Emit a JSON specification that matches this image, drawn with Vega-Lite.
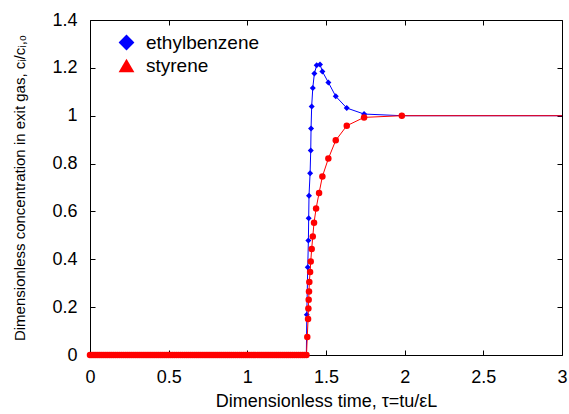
{
  "$schema": "https://vega.github.io/schema/vega-lite/v6.json",
  "width": 472,
  "height": 335,
  "autosize": {"type": "none"},
  "padding": {"left": 90, "top": 20, "right": 7, "bottom": 59},
  "background": "white",
  "config": {
    "font": "Liberation Sans",
    "view": {"stroke": "black", "strokeWidth": 1},
    "axis": {
      "grid": false,
      "domain": false,
      "ticks": true,
      "tickColor": "black",
      "tickSize": -5,
      "labelFlush": false,
      "labelColor": "black",
      "labelFontSize": 18,
      "labelFont": "Liberation Sans",
      "titleFont": "Liberation Sans",
      "titleFontWeight": "normal",
      "titleColor": "black"
    }
  },
  "data": {
    "values": [
      {"series": "ethylbenzene", "t": 0, "c": 0},
      {"series": "ethylbenzene", "t": 0.25, "c": 0},
      {"series": "ethylbenzene", "t": 0.5, "c": 0},
      {"series": "ethylbenzene", "t": 0.75, "c": 0},
      {"series": "ethylbenzene", "t": 1, "c": 0},
      {"series": "ethylbenzene", "t": 1.25, "c": 0},
      {"series": "ethylbenzene", "t": 1.375, "c": 0},
      {"series": "ethylbenzene", "t": 1.378, "c": 0.168},
      {"series": "ethylbenzene", "t": 1.384, "c": 0.367},
      {"series": "ethylbenzene", "t": 1.388, "c": 0.479},
      {"series": "ethylbenzene", "t": 1.39, "c": 0.572},
      {"series": "ethylbenzene", "t": 1.392, "c": 0.666},
      {"series": "ethylbenzene", "t": 1.399, "c": 0.76},
      {"series": "ethylbenzene", "t": 1.403, "c": 0.855},
      {"series": "ethylbenzene", "t": 1.405, "c": 0.947},
      {"series": "ethylbenzene", "t": 1.409, "c": 1.039},
      {"series": "ethylbenzene", "t": 1.416, "c": 1.116},
      {"series": "ethylbenzene", "t": 1.426, "c": 1.176},
      {"series": "ethylbenzene", "t": 1.441, "c": 1.211},
      {"series": "ethylbenzene", "t": 1.462, "c": 1.214},
      {"series": "ethylbenzene", "t": 1.477, "c": 1.185},
      {"series": "ethylbenzene", "t": 1.515, "c": 1.139},
      {"series": "ethylbenzene", "t": 1.562, "c": 1.081},
      {"series": "ethylbenzene", "t": 1.632, "c": 1.032},
      {"series": "ethylbenzene", "t": 1.742, "c": 1.007},
      {"series": "ethylbenzene", "t": 1.982, "c": 1.0},
      {"series": "ethylbenzene", "t": 3, "c": 1.0},
      {"series": "styrene", "t": 0, "c": 0},
      {"series": "styrene", "t": 0.0125, "c": 0},
      {"series": "styrene", "t": 0.025, "c": 0},
      {"series": "styrene", "t": 0.0375, "c": 0},
      {"series": "styrene", "t": 0.05, "c": 0},
      {"series": "styrene", "t": 0.0625, "c": 0},
      {"series": "styrene", "t": 0.075, "c": 0},
      {"series": "styrene", "t": 0.0875, "c": 0},
      {"series": "styrene", "t": 0.1, "c": 0},
      {"series": "styrene", "t": 0.1125, "c": 0},
      {"series": "styrene", "t": 0.125, "c": 0},
      {"series": "styrene", "t": 0.1375, "c": 0},
      {"series": "styrene", "t": 0.15, "c": 0},
      {"series": "styrene", "t": 0.1625, "c": 0},
      {"series": "styrene", "t": 0.175, "c": 0},
      {"series": "styrene", "t": 0.1875, "c": 0},
      {"series": "styrene", "t": 0.2, "c": 0},
      {"series": "styrene", "t": 0.2125, "c": 0},
      {"series": "styrene", "t": 0.225, "c": 0},
      {"series": "styrene", "t": 0.2375, "c": 0},
      {"series": "styrene", "t": 0.25, "c": 0},
      {"series": "styrene", "t": 0.2625, "c": 0},
      {"series": "styrene", "t": 0.275, "c": 0},
      {"series": "styrene", "t": 0.2875, "c": 0},
      {"series": "styrene", "t": 0.3, "c": 0},
      {"series": "styrene", "t": 0.3125, "c": 0},
      {"series": "styrene", "t": 0.325, "c": 0},
      {"series": "styrene", "t": 0.3375, "c": 0},
      {"series": "styrene", "t": 0.35, "c": 0},
      {"series": "styrene", "t": 0.3625, "c": 0},
      {"series": "styrene", "t": 0.375, "c": 0},
      {"series": "styrene", "t": 0.3875, "c": 0},
      {"series": "styrene", "t": 0.4, "c": 0},
      {"series": "styrene", "t": 0.4125, "c": 0},
      {"series": "styrene", "t": 0.425, "c": 0},
      {"series": "styrene", "t": 0.4375, "c": 0},
      {"series": "styrene", "t": 0.45, "c": 0},
      {"series": "styrene", "t": 0.4625, "c": 0},
      {"series": "styrene", "t": 0.475, "c": 0},
      {"series": "styrene", "t": 0.4875, "c": 0},
      {"series": "styrene", "t": 0.5, "c": 0},
      {"series": "styrene", "t": 0.5125, "c": 0},
      {"series": "styrene", "t": 0.525, "c": 0},
      {"series": "styrene", "t": 0.5375, "c": 0},
      {"series": "styrene", "t": 0.55, "c": 0},
      {"series": "styrene", "t": 0.5625, "c": 0},
      {"series": "styrene", "t": 0.575, "c": 0},
      {"series": "styrene", "t": 0.5875, "c": 0},
      {"series": "styrene", "t": 0.6, "c": 0},
      {"series": "styrene", "t": 0.6125, "c": 0},
      {"series": "styrene", "t": 0.625, "c": 0},
      {"series": "styrene", "t": 0.6375, "c": 0},
      {"series": "styrene", "t": 0.65, "c": 0},
      {"series": "styrene", "t": 0.6625, "c": 0},
      {"series": "styrene", "t": 0.675, "c": 0},
      {"series": "styrene", "t": 0.6875, "c": 0},
      {"series": "styrene", "t": 0.7, "c": 0},
      {"series": "styrene", "t": 0.7125, "c": 0},
      {"series": "styrene", "t": 0.725, "c": 0},
      {"series": "styrene", "t": 0.7375, "c": 0},
      {"series": "styrene", "t": 0.75, "c": 0},
      {"series": "styrene", "t": 0.7625, "c": 0},
      {"series": "styrene", "t": 0.775, "c": 0},
      {"series": "styrene", "t": 0.7875, "c": 0},
      {"series": "styrene", "t": 0.8, "c": 0},
      {"series": "styrene", "t": 0.8125, "c": 0},
      {"series": "styrene", "t": 0.825, "c": 0},
      {"series": "styrene", "t": 0.8375, "c": 0},
      {"series": "styrene", "t": 0.85, "c": 0},
      {"series": "styrene", "t": 0.8625, "c": 0},
      {"series": "styrene", "t": 0.875, "c": 0},
      {"series": "styrene", "t": 0.8875, "c": 0},
      {"series": "styrene", "t": 0.9, "c": 0},
      {"series": "styrene", "t": 0.9125, "c": 0},
      {"series": "styrene", "t": 0.925, "c": 0},
      {"series": "styrene", "t": 0.9375, "c": 0},
      {"series": "styrene", "t": 0.95, "c": 0},
      {"series": "styrene", "t": 0.9625, "c": 0},
      {"series": "styrene", "t": 0.975, "c": 0},
      {"series": "styrene", "t": 0.9875, "c": 0},
      {"series": "styrene", "t": 1, "c": 0},
      {"series": "styrene", "t": 1.0125, "c": 0},
      {"series": "styrene", "t": 1.025, "c": 0},
      {"series": "styrene", "t": 1.0375, "c": 0},
      {"series": "styrene", "t": 1.05, "c": 0},
      {"series": "styrene", "t": 1.0625, "c": 0},
      {"series": "styrene", "t": 1.075, "c": 0},
      {"series": "styrene", "t": 1.0875, "c": 0},
      {"series": "styrene", "t": 1.1, "c": 0},
      {"series": "styrene", "t": 1.1125, "c": 0},
      {"series": "styrene", "t": 1.125, "c": 0},
      {"series": "styrene", "t": 1.1375, "c": 0},
      {"series": "styrene", "t": 1.15, "c": 0},
      {"series": "styrene", "t": 1.1625, "c": 0},
      {"series": "styrene", "t": 1.175, "c": 0},
      {"series": "styrene", "t": 1.1875, "c": 0},
      {"series": "styrene", "t": 1.2, "c": 0},
      {"series": "styrene", "t": 1.2125, "c": 0},
      {"series": "styrene", "t": 1.225, "c": 0},
      {"series": "styrene", "t": 1.2375, "c": 0},
      {"series": "styrene", "t": 1.25, "c": 0},
      {"series": "styrene", "t": 1.2625, "c": 0},
      {"series": "styrene", "t": 1.275, "c": 0},
      {"series": "styrene", "t": 1.2875, "c": 0},
      {"series": "styrene", "t": 1.3, "c": 0},
      {"series": "styrene", "t": 1.3125, "c": 0},
      {"series": "styrene", "t": 1.325, "c": 0},
      {"series": "styrene", "t": 1.3375, "c": 0},
      {"series": "styrene", "t": 1.35, "c": 0},
      {"series": "styrene", "t": 1.3625, "c": 0},
      {"series": "styrene", "t": 1.376, "c": 0},
      {"series": "styrene", "t": 1.381, "c": 0.075},
      {"series": "styrene", "t": 1.386, "c": 0.15},
      {"series": "styrene", "t": 1.388, "c": 0.194},
      {"series": "styrene", "t": 1.39, "c": 0.231},
      {"series": "styrene", "t": 1.392, "c": 0.265},
      {"series": "styrene", "t": 1.394, "c": 0.305},
      {"series": "styrene", "t": 1.399, "c": 0.347},
      {"series": "styrene", "t": 1.403, "c": 0.391},
      {"series": "styrene", "t": 1.409, "c": 0.443},
      {"series": "styrene", "t": 1.416, "c": 0.495},
      {"series": "styrene", "t": 1.424, "c": 0.553},
      {"series": "styrene", "t": 1.437, "c": 0.612},
      {"series": "styrene", "t": 1.456, "c": 0.677},
      {"series": "styrene", "t": 1.477, "c": 0.746},
      {"series": "styrene", "t": 1.515, "c": 0.821},
      {"series": "styrene", "t": 1.562, "c": 0.897},
      {"series": "styrene", "t": 1.632, "c": 0.958},
      {"series": "styrene", "t": 1.742, "c": 0.993},
      {"series": "styrene", "t": 1.982, "c": 1.0},
      {"series": "styrene", "t": 3, "c": 1.0}
    ]
  },
  "resolve": {"axis": {"x": "independent", "y": "independent"}},
  "layer": [
    {
      "transform": [{"filter": "datum.series === 'ethylbenzene'"}],
      "mark": {"type": "line", "color": "#0000ff", "strokeWidth": 1, "clip": true},
      "encoding": {
        "x": {
          "field": "t", "type": "quantitative",
          "scale": {"domain": [0, 3], "nice": false, "zero": false},
          "axis": {
            "orient": "bottom",
            "values": [0, 0.5, 1, 1.5, 2, 2.5, 3],
            "format": "~g",
            "labelPadding": 18,
            "title": "Dimensionless time, τ=tu/εL",
            "titleFontSize": 18,
            "titlePadding": 6
          }
        },
        "y": {
          "field": "c", "type": "quantitative",
          "scale": {"domain": [0, 1.4], "nice": false, "zero": false},
          "axis": {
            "orient": "left",
            "values": [0, 0.2, 0.4, 0.6, 0.8, 1, 1.2, 1.4],
            "format": "~g",
            "labelPadding": 18,
            "title": "Dimensionless concentration in exit gas, cᵢ/cᵢ,₀",
            "titleFontSize": 15,
            "titlePadding": 24
          }
        }
      }
    },
    {
      "transform": [{"filter": "datum.series === 'ethylbenzene' && datum.t < 2.5"}],
      "mark": {"type": "point", "filled": true, "opacity": 1, "size": 36, "strokeWidth": 0},
      "encoding": {
        "x": {"field": "t", "type": "quantitative", "axis": null},
        "y": {"field": "c", "type": "quantitative", "axis": null},
        "color": {
          "field": "series", "type": "nominal",
          "scale": {"domain": ["ethylbenzene", "styrene"], "range": ["#0000ff", "#ff0000"]},
          "legend": {
            "title": null,
            "orient": "none",
            "legendX": 27,
            "legendY": 13,
            "labelFontSize": 19,
            "labelFont": "Liberation Sans",
            "labelColor": "black",
            "symbolSize": 250,
            "symbolOpacity": 1,
            "symbolStrokeWidth": 0,
            "rowPadding": 3,
            "labelOffset": 10
          }
        },
        "shape": {
          "field": "series", "type": "nominal",
          "scale": {"domain": ["ethylbenzene", "styrene"], "range": ["diamond", "triangle-up"]},
          "legend": {
            "title": null,
            "orient": "none",
            "legendX": 27,
            "legendY": 13,
            "labelFontSize": 19,
            "labelFont": "Liberation Sans",
            "labelColor": "black",
            "symbolSize": 250,
            "symbolOpacity": 1,
            "symbolStrokeWidth": 0,
            "rowPadding": 3,
            "labelOffset": 10
          }
        }
      }
    },
    {
      "transform": [{"filter": "datum.series === 'styrene'"}],
      "mark": {"type": "line", "color": "#ff0000", "strokeWidth": 1, "clip": true},
      "encoding": {
        "x": {"field": "t", "type": "quantitative", "axis": null},
        "y": {"field": "c", "type": "quantitative", "axis": null}
      }
    },
    {
      "transform": [{"filter": "datum.series === 'styrene' && datum.t < 2.5"}],
      "mark": {"type": "point", "shape": "circle", "filled": true, "opacity": 1, "size": 42, "strokeWidth": 0, "color": "#ff0000"},
      "encoding": {
        "x": {
          "field": "t", "type": "quantitative",
          "axis": {"orient": "top", "values": [0, 0.5, 1, 1.5, 2, 2.5, 3], "labels": false, "title": null}
        },
        "y": {
          "field": "c", "type": "quantitative",
          "axis": {"orient": "right", "values": [0, 0.2, 0.4, 0.6, 0.8, 1, 1.2, 1.4], "labels": false, "title": null}
        }
      }
    }
  ]
}
